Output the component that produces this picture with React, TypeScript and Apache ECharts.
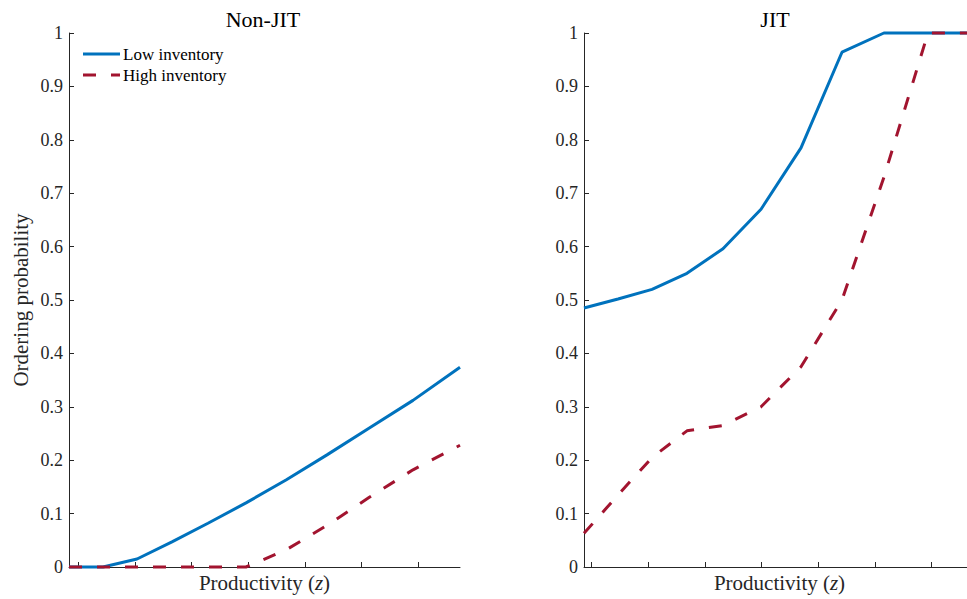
import React, { useEffect, useRef } from "react";
import * as echarts from "echarts";

// productivity grid (in tick units)
const zGrid = [0, 0.6, 1.2, 1.816, 2.451, 3.122, 3.827, 4.55, 5.29, 6.067, 6.896];
const leftTicks = [0.16, 1.16, 2.16, 3.16, 4.16, 5.16, 6.16];
const rightTicks = [0.13, 1.13, 2.13, 3.13, 4.13, 5.13, 6.13];

const nonJitLow = [0, 0, 0.015, 0.047, 0.082, 0.12, 0.163, 0.21, 0.26, 0.312, 0.374];
const nonJitHigh = [0, 0, 0, 0, 0, 0, 0.032, 0.078, 0.13, 0.182, 0.228];
const jitLow = [0.485, 0.502, 0.52, 0.55, 0.596, 0.67, 0.785, 0.964, 1, 1, 1];
const jitHigh = [0.063, 0.135, 0.205, 0.255, 0.265, 0.3, 0.375, 0.5, 0.73, 1, 1];

const titles = ["Non-JIT", "JIT"];
const seriesNames = ["Low inventory", "High inventory"];

const FONT = "'Liberation Serif', 'DejaVu Serif', serif";
const BLUE = "#0072BD";
const RED = "#A2142F";
const AXIS = "#262626";
const DASH = [13, 15];

const pairs = (ys: number[]) => zGrid.map((x, i) => [x, ys[i]]);

export default function App() {
  const ref = useRef<HTMLDivElement>(null);
  useEffect(() => {
    if (!ref.current) return;
    const chart = echarts.init(ref.current, null, { renderer: "svg" });
    const mkX = (gi: number, ticks: number[]) => ({
      type: "value",
      gridIndex: gi,
      min: 0,
      max: 6.896,
      name: "Productivity ({i|z})",
      nameLocation: "middle",
      nameGap: 5,
      nameTextStyle: {
        fontFamily: FONT,
        fontSize: 21,
        color: AXIS,
        verticalAlign: "top",
        rich: { i: { fontFamily: FONT, fontSize: 21, fontStyle: "italic", color: AXIS } },
      },
      axisLine: { show: true, onZero: false, lineStyle: { color: AXIS, width: 1 } },
      axisTick: { show: true, inside: true, length: 5, customValues: ticks, lineStyle: { color: AXIS } },
      axisLabel: { show: false },
      splitLine: { show: false },
    });
    const mkY = (gi: number, withName: boolean) => ({
      type: "value",
      gridIndex: gi,
      min: 0,
      max: 1,
      interval: 0.1,
      name: withName ? "Ordering probability" : "",
      nameLocation: "middle",
      nameGap: 38,
      nameTextStyle: { fontFamily: FONT, fontSize: 21, color: AXIS },
      axisLine: { show: true, lineStyle: { color: AXIS, width: 1 } },
      axisTick: { show: true, inside: true, length: 5, lineStyle: { color: AXIS } },
      axisLabel: {
        fontFamily: FONT,
        fontSize: 18,
        color: AXIS,
        margin: 6,
        formatter: (v: number) => String(Math.round(v * 10) / 10),
      },
      splitLine: { show: false },
    });
    const lineSeries = (name: string, idx: number, data: number[], dashed: boolean) => ({
      type: "line",
      name,
      xAxisIndex: idx,
      yAxisIndex: idx,
      data: pairs(data),
      showSymbol: false,
      symbol: "none",
      clip: false,
      lineStyle: {
        color: dashed ? RED : BLUE,
        width: 3,
        type: dashed ? DASH : "solid",
      },
      itemStyle: { color: dashed ? RED : BLUE },
      z: dashed ? 3 : 2,
    });
    const legendRow = (i: number, y: number) => ({
      type: "group",
      children: [
        {
          type: "line",
          shape: { x1: 83, y1: y, x2: 120, y2: y },
          style: {
            stroke: i === 0 ? BLUE : RED,
            lineWidth: 3,
            lineDash: i === 0 ? null : DASH,
          },
        },
        {
          type: "text",
          x: 123,
          y,
          style: {
            text: seriesNames[i],
            fontFamily: FONT,
            fontSize: 17,
            fill: "#000",
            verticalAlign: "middle",
            align: "left",
          },
        },
      ],
    });
    chart.setOption({
      animation: false,
      backgroundColor: "#ffffff",
      title: [
        {
          text: titles[0],
          left: 258,
          top: 3,
          textAlign: "center",
          textStyle: { fontFamily: FONT, fontSize: 22, fontWeight: "normal", color: "#000" },
        },
        {
          text: titles[1],
          left: 770,
          top: 3,
          textAlign: "center",
          textStyle: { fontFamily: FONT, fontSize: 22, fontWeight: "normal", color: "#000" },
        },
      ],
      graphic: [legendRow(0, 54), legendRow(1, 75)],
      grid: [
        { left: 69, width: 391, top: 33, bottom: 32, outerBoundsMode: "none", containLabel: false },
        { left: 584, width: 391, top: 33, bottom: 32, outerBoundsMode: "none", containLabel: false },
      ],
      xAxis: [mkX(0, leftTicks), mkX(1, rightTicks)],
      yAxis: [mkY(0, true), mkY(1, false)],
      series: [
        lineSeries(seriesNames[0], 0, nonJitLow, false),
        lineSeries(seriesNames[1], 0, nonJitHigh, true),
        lineSeries(seriesNames[0], 1, jitLow, false),
        lineSeries(seriesNames[1], 1, jitHigh, true),
      ],
    });
    return () => chart.dispose();
  }, []);
  return <div ref={ref} style={{ width: 967, height: 599, position: "absolute", left: 0, top: 0 }} />;
}
